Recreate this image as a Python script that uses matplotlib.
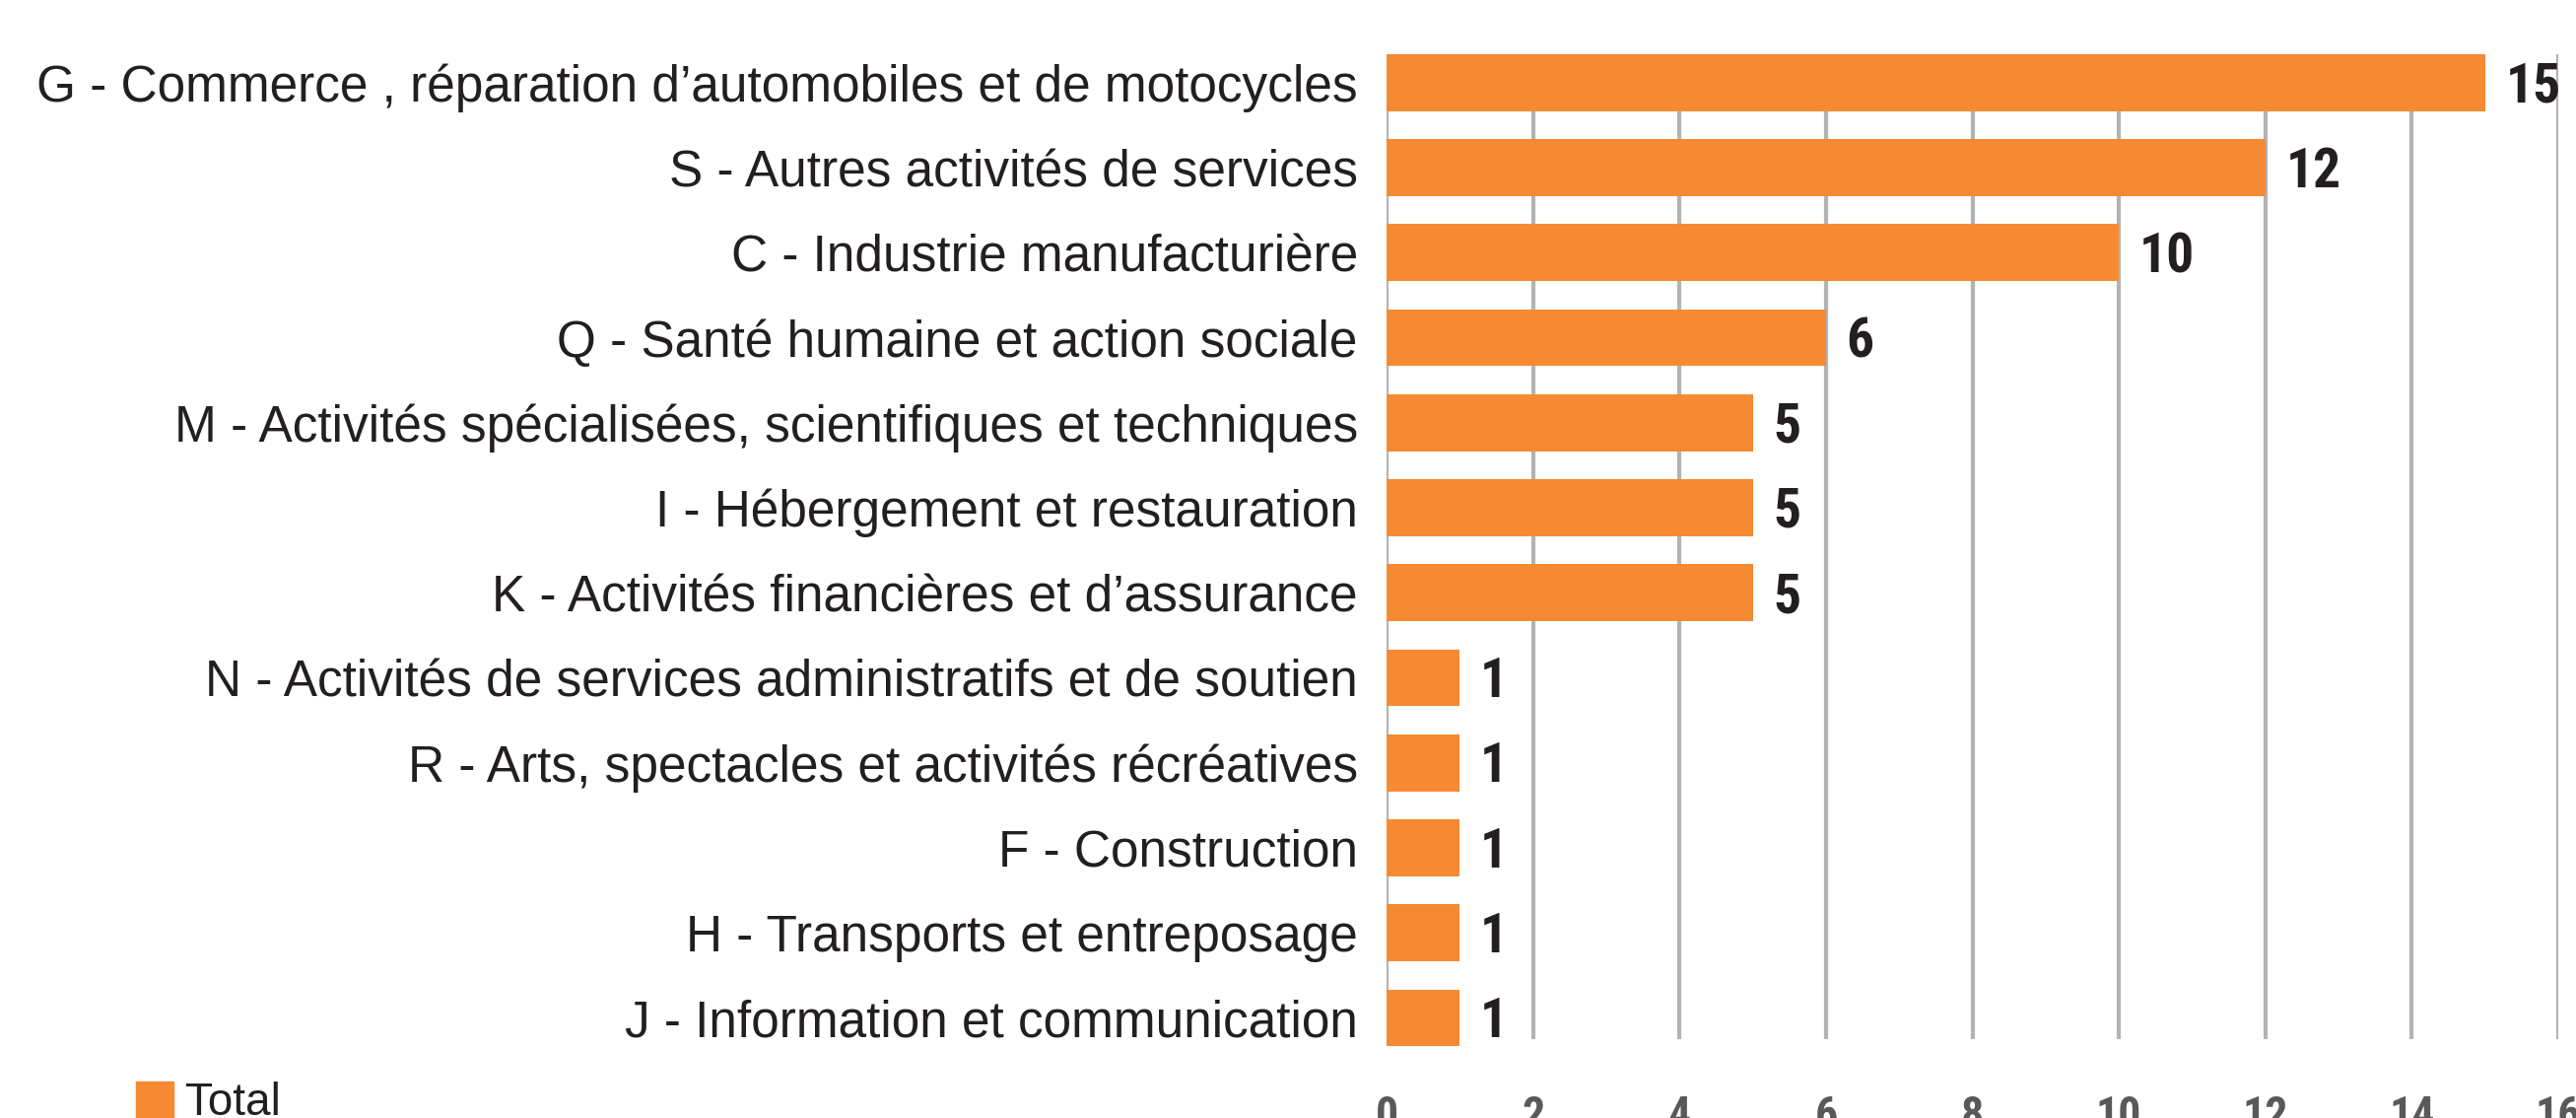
import matplotlib
matplotlib.use("Agg")
import matplotlib.pyplot as plt
from matplotlib.patches import Rectangle
from matplotlib import font_manager as fm

categories = [
    "G - Commerce , réparation d’automobiles et de motocycles",
    "S - Autres activités de services",
    "C - Industrie manufacturière",
    "Q - Santé humaine et action sociale",
    "M - Activités spécialisées, scientifiques et techniques",
    "I - Hébergement et restauration",
    "K - Activités financières et d’assurance",
    "N - Activités de services administratifs et de soutien",
    "R - Arts, spectacles et activités récréatives",
    "F - Construction",
    "H - Transports et entreposage",
    "J - Information et communication",
]
values = [15, 12, 10, 6, 5, 5, 5, 1, 1, 1, 1, 1]
series_name = "Total"
xticks = [0, 2, 4, 6, 8, 10, 12, 14, 16]

names = {f.name for f in fm.fontManager.ttflist}
cond = [n for n in ["Roboto Condensed", "DejaVu Sans Condensed", "Liberation Sans Narrow"]
        if n in names]
numfam = cond + ["DejaVu Sans"]

W, H = 2614, 1134
fig = plt.figure(figsize=(W / 100, H / 100), dpi=100)
ax = fig.add_axes([1407 / W, 1 - 1054 / H, (2596 - 1407) / W, (1054 - 55) / H])

orange = "#F58A33"
ypos = list(range(len(categories)))
bars = ax.barh(ypos, values, height=0.67, color=orange, zorder=3, clip_on=False,
               label=series_name)

ax.set_xlim(0, 16)
ax.set_ylim(11.25, -0.335)
ax.set_xticks(xticks)
ax.set_xticklabels([str(t) for t in xticks], fontsize=33, fontweight="bold",
                   color="#58595b", family=numfam, fontstretch="condensed")
ax.tick_params(axis="x", length=0, pad=40)
ax.set_yticks(ypos)
ax.set_yticklabels(categories, fontsize=37, color="#231f20",
                   family=["Liberation Sans", "DejaVu Sans"])
ax.tick_params(axis="y", length=0, pad=21)
for s in ax.spines.values():
    s.set_visible(False)
ax.grid(axis="x", color="#b3b3b5", linewidth=3, zorder=0)
ax.set_axisbelow(True)

fs_val = 40
for y, v in zip(ypos, values):
    ax.annotate(str(v), (v, y), xytext=(15, -0.355 * fs_val), textcoords="offset points",
                va="baseline", ha="left", fontsize=fs_val, fontweight="bold",
                color="#231f20", family=numfam, fontstretch="condensed",
                annotation_clip=False)

# legend swatch and label
fig.patches.append(Rectangle((138 / W, 1 - (1097 + 38) / H), 38 / W, 38 / H,
                             transform=fig.transFigure, color=orange))
fig.text(188 / W, 1 - 1097 / H, series_name, fontsize=33, color="#231f20",
         va="top", ha="left", family=["Liberation Sans", "DejaVu Sans"])

fig.savefig("out.png", dpi=100)
